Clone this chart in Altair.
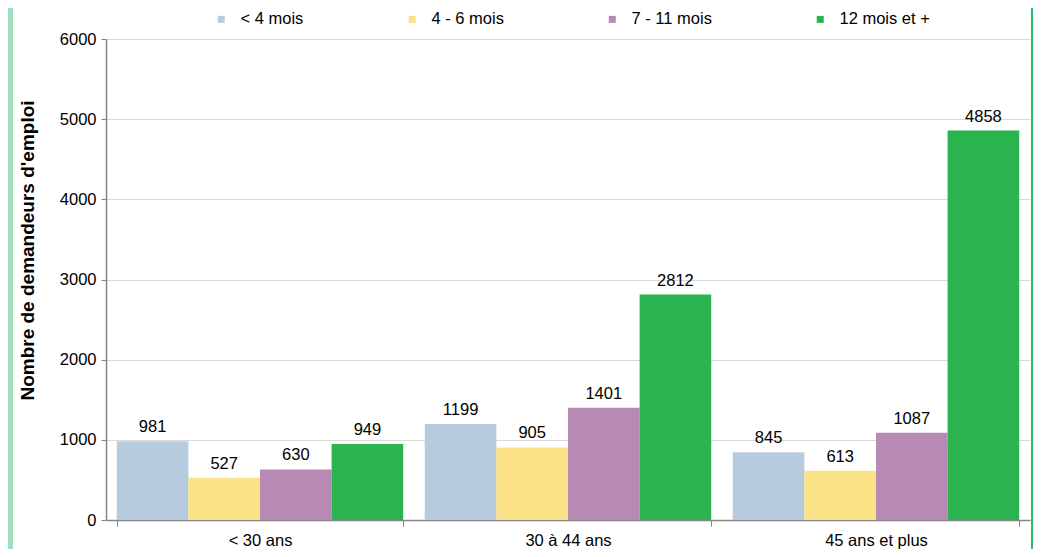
import altair as alt
import pandas as pd

categories = ["< 30 ans", "30 à 44 ans", "45 ans et plus"]
series = ["< 4 mois", "4 - 6 mois", "7 - 11 mois", "12 mois et +"]
v_lt4 = [981, 1199, 845]
v_4_6 = [527, 905, 613]
v_7_11 = [630, 1401, 1087]
v_12p = [949, 2812, 4858]
colors = ["#b6cbdd", "#fbe287", "#b68ab2", "#2bb34f"]

rows = []
for s, vals in zip(series, [v_lt4, v_4_6, v_7_11, v_12p]):
    for c, v in zip(categories, vals):
        rows.append({"cat": c, "serie": s, "val": v})
df = pd.DataFrame(rows)

FONT = "Liberation Sans"
FS = 16.5

x = alt.X("cat:N", sort=categories, title=None,
          scale=alt.Scale(paddingInner=0.07, paddingOuter=0.035),
          axis=alt.Axis(labelAngle=0, labelFontSize=FS, labelFont=FONT, labelColor="#000000",
                        tickBand="extent", tickSize=6, tickColor="#868686",
                        domainColor="#868686", domainWidth=1.5, labelPadding=6, grid=False))
xo = alt.XOffset("serie:N", sort=series, scale=alt.Scale(paddingInner=0, paddingOuter=0))
y = alt.Y("val:Q", title="Nombre de demandeurs d'emploi",
          scale=alt.Scale(domain=[0, 6000]),
          axis=alt.Axis(values=[0, 1000, 2000, 3000, 4000, 5000, 6000], format="d",
                        labelFontSize=FS, labelFont=FONT, labelColor="#000000",
                        tickSize=5, tickColor="#868686", domainColor="#868686", domainWidth=1.5,
                        gridColor="#d9d9d9", labelPadding=5,
                        titleFont=FONT, titleFontSize=19, titleFontWeight="bold", titleColor="#000000",
                        titleAngle=-90, titleX=-79, titleY=211, titleAlign="center",
                        titleBaseline="middle"))

color = alt.Color("serie:N", sort=series, scale=alt.Scale(domain=series, range=colors),
                  legend=alt.Legend(title=None, orient="none", legendX=107, legendY=-28,
                                    direction="horizontal", symbolType="square", symbolSize=49,
                                    symbolStrokeWidth=0, labelFontSize=FS, labelFont=FONT,
                                    labelColor="#000000", labelOffset=11, columnPadding=100,
                                    padding=0))

bars = alt.Chart(df).mark_bar(opacity=1).encode(x=x, xOffset=xo, y=y, color=color)
labels = alt.Chart(df).mark_text(baseline="alphabetic", dy=-9, fontSize=FS, font=FONT,
                                 color="#000000").encode(
    x=x, xOffset=xo, y=y, text=alt.Text("val:Q", format="d"))

left_band = alt.Chart(df).mark_rule(color="#9fdfbd", strokeWidth=5).encode(
    x=alt.value(-95.5), y=alt.value(-40), y2=alt.value(540))
right_line = alt.Chart(df).mark_rule(color="#1fbf6e", strokeWidth=2).encode(
    x=alt.value(926), y=alt.value(-40), y2=alt.value(540))

chart = alt.layer(bars, labels, left_band, right_line).properties(
    width=924, height=481,
    autosize=alt.AutoSizeParams(type="none"),
    padding={"left": 98, "top": 31, "right": 3, "bottom": 29},
).configure_view(stroke=None).configure_axis(labelFont=FONT)

chart.save("out.html", embed_options={"renderer": "svg", "actions": False})
